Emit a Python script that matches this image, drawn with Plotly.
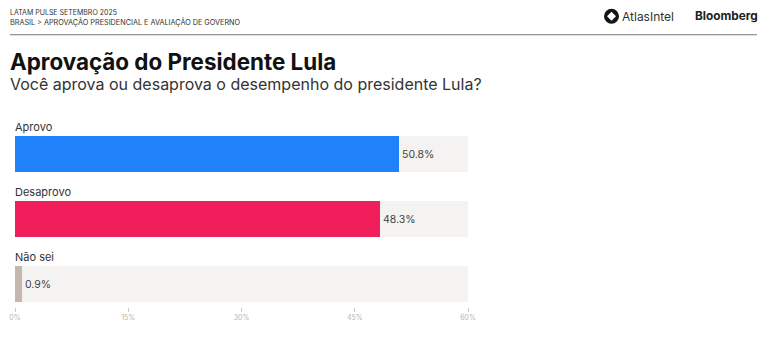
import plotly.graph_objects as go

categories = ["Aprovo", "Desaprovo", "Não sei"]
values = [50.8, 48.3, 0.9]
track = [60, 60, 60]
colors = ["#1f82fb", "#f01d5b", "#c5b6ae"]
ticks = [0, 15, 30, 45, 60]
tick_labels = ["0%", "15%", "30%", "45%", "60%"]

W, H = 765, 359
L, R, T, B = 15, 468, 121.5, 307


def px(x):
    return (x - L) / (R - L)


def py(y):
    return (B - y) / (B - T)


def label(x, y, text, size, color="#222222", anchor="left", family="Inter"):
    return dict(xref="paper", yref="paper", x=px(x), y=py(y), text=text, showarrow=False,
                xanchor=anchor, yanchor="middle", align=anchor, borderpad=0,
                font=dict(size=size, color=color, family=family))


fig = go.Figure()
fig.add_trace(go.Bar(y=categories, x=track, orientation="h", marker=dict(color="#f4f3f1", line_width=0),
                     width=0.554, hoverinfo="skip", showlegend=False))
fig.add_trace(go.Bar(y=categories, x=values, orientation="h", marker=dict(color=colors, line_width=0),
                     width=0.554, text=[f"{v}%" for v in values], textposition="outside", cliponaxis=False,
                     textfont=dict(size=10.5, color="#444444", family="Inter"), showlegend=False))

annotations = [
    label(9, 11.5, "LATAM PULSE SETEMBRO 2025", 7, "#333333"),
    label(9, 21, "BRASIL &gt; APROVAÇÃO PRESIDENCIAL E AVALIAÇÃO DE GOVERNO", 7.25, "#333333"),
    label(9, 61, "<b>Aprovação do Presidente Lula</b>", 22.4, "#111111"),
    label(9, 83, "Você aprova ou desaprova o desempenho do presidente Lula?", 16, "#333333"),
    label(621, 15.5, "AtlasIntel", 12, "#333333"),
    label(694, 15.5, "<b>Bloomberg</b>", 11.8, "#222222"),
]
for cat in categories:
    annotations.append(dict(x=0, y=cat, xref="x", yref="y", text=cat, showarrow=False, xanchor="left",
                            yanchor="middle", yshift=27, xshift=-2,
                            font=dict(size=11, color="#333333", family="Inter")))

shapes = [
    dict(type="line", xref="paper", yref="paper", x0=px(10), x1=px(757), y0=py(34), y1=py(34),
         line=dict(color="#777777", width=1)),
    dict(type="circle", xref="paper", yref="paper", x0=px(604), x1=px(619), y0=py(8), y1=py(23),
         fillcolor="#151515", line_width=0),
    dict(type="path", xref="paper", yref="paper",
         path=f"M {px(611.5)} {py(11)} L {px(616)} {py(15.5)} L {px(611.5)} {py(20)} L {px(607)} {py(15.5)} Z",
         fillcolor="white", line_width=0),
]

fig.update_layout(
    width=W, height=H, barmode="overlay", plot_bgcolor="white", paper_bgcolor="white",
    margin=dict(l=L, r=W - R, t=T, b=H - B, autoexpand=False),
    annotations=annotations, shapes=shapes,
    bargap=0,
    xaxis=dict(range=[0, 60], tickvals=ticks, ticktext=tick_labels, ticks="outside", ticklen=4, tickwidth=1,
               tickcolor="#cccccc", showgrid=False, zeroline=False, showline=False,
               tickfont=dict(size=7, color="#b5b5b5", family="Inter")),
    yaxis=dict(range=[2.354, -0.5], type="category", showticklabels=False, showgrid=False, zeroline=False,
               showline=False, ticks=""),
)
fig.write_html("out.html", post_script="document.body.style.margin='0';", config=dict(displayModeBar=False))
